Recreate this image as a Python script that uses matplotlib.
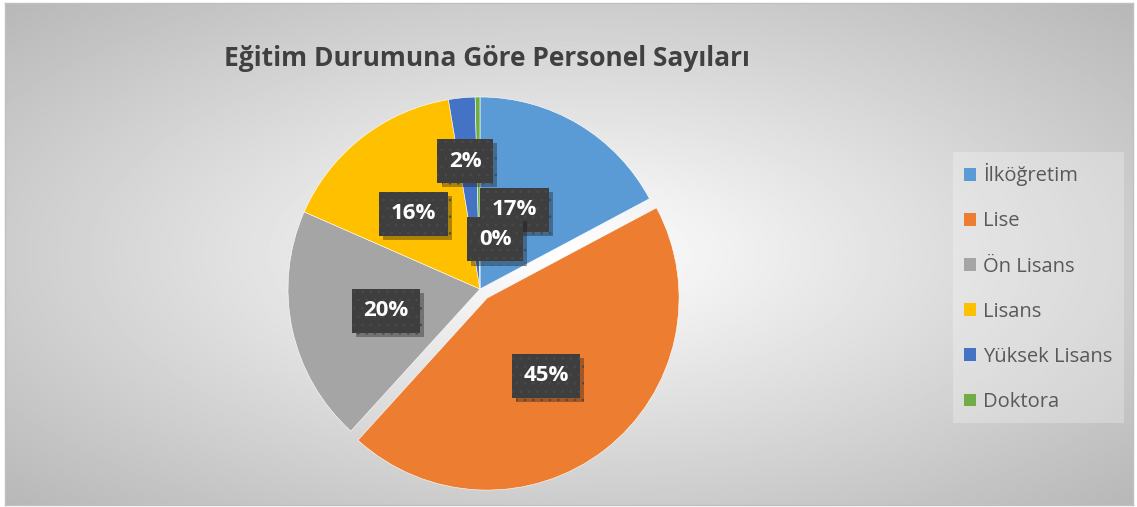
import numpy as np
import matplotlib.pyplot as plt
import matplotlib.patheffects as pe

plt.rcParams['font.family'] = ['Open Sans', 'DejaVu Sans']
plt.rcParams['hatch.linewidth'] = 0.6

# data
categories = ['İlköğretim', 'Lise', 'Ön Lisans', 'Lisans', 'Yüksek Lisans', 'Doktora']
counts = [85, 220, 98, 78, 11, 2]
colors = ['#5B9BD5', '#ED7D31', '#A5A5A5', '#FFC000', '#4472C4', '#70AD47']
explode = [0, 0.06, 0, 0, 0, 0]
# where each % label sits: distance from centre, angular shift from wedge middle (deg)
label_r = [0.46, 0.50, 0.50, 0.53, 0.68, 0.28]
label_shift = [8, 0, 0, 3, 1, -17]

W, H = 1137, 507
fig = plt.figure(figsize=(W / 100, H / 100), dpi=100)

# radial gradient background with thin border
bg = fig.add_axes([5 / W, 2 / H, 1128 / W, 502 / H])
yy, xx = np.mgrid[0:1:300j, 0:1:600j]
d = np.sqrt((xx - 0.5) ** 2 + (yy - 0.5) ** 2)
img = 1.0 - 0.28 * d / 0.707
bg.imshow(img, cmap='gray', vmin=0, vmax=1, aspect='auto', extent=[0, 1, 0, 1])
bg.set_xticks([])
bg.set_yticks([])
for s in bg.spines.values():
    s.set_color('#c0c0c0')
    s.set_linewidth(1)

# pie
R = 192
cx, cy = 480, H - 289
side = 2 * R * 1.1
ax = fig.add_axes([(cx - side / 2) / W, (cy - side / 2) / H, side / W, side / H])

total = sum(counts)
wedges, _ = ax.pie(counts, colors=colors, explode=explode, startangle=90,
                   counterclock=False, radius=1,
                   wedgeprops=dict(edgecolor='white', linewidth=0.4))
ax.set_xlim(-1.1, 1.1)
ax.set_ylim(-1.1, 1.1)
ax.axis('off')

for w, c, r, sh in zip(wedges, counts, label_r, label_shift):
    mid = np.deg2rad((w.theta1 + w.theta2) / 2 + sh)
    x0, y0 = w.center
    t = ax.text(x0 + r * np.cos(mid), y0 + r * np.sin(mid) - 0.01, '%.0f%%' % (100 * c / total),
                ha='center', va='center', color='white', fontsize=16, fontweight='bold',
                bbox=dict(boxstyle='square,pad=0.52', facecolor='#3e3e3e',
                          edgecolor='#4a4a4a', hatch='..', linewidth=0))
    t.get_bbox_patch().set_path_effects([pe.SimplePatchShadow(offset=(3, -3), alpha=0.35),
                                         pe.Normal()])

fig.text(487 / W, 1 - 58 / H, 'Eğitim Durumuna Göre Personel Sayıları',
         ha='center', va='center', fontsize=19, fontweight='bold', color='#404040')

leg = fig.legend(wedges, categories, loc='upper left',
                 bbox_to_anchor=(953 / W, 1 - 152 / H), frameon=True,
                 fontsize=14.5, labelcolor='#595959', handlelength=0.6,
                 handleheight=0.6, handletextpad=0.35, labelspacing=1.25,
                 borderpad=0.55, borderaxespad=0, fancybox=False)
leg.get_frame().set_facecolor('white')
leg.get_frame().set_alpha(0.25)
leg.get_frame().set_edgecolor('none')
for h in leg.legend_handles:
    h.set_path_effects([])
    h.set_edgecolor('none')

fig.savefig('out.png', dpi=100)
